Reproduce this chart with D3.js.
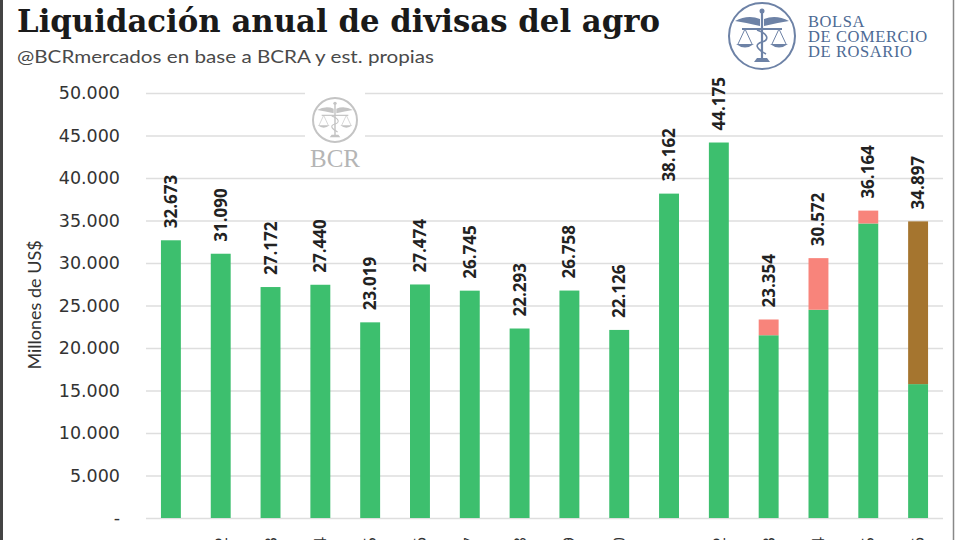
<!DOCTYPE html>
<html>
<head>
<meta charset="utf-8">
<script src="https://cdn.jsdelivr.net/npm/d3@7"></script>
<style>
  html, body { margin: 0; padding: 0; background: #fff; }
  svg { display: block; }
</style>
</head>
<body>
<svg id="chart" width="960" height="540"></svg>
<script>
// datos (millones de US$)
const years = ["2011", "2012", "2013", "2014", "2015", "2016", "2017", "2018",
               "2019", "2020", "2021", "2022", "2023", "2024", "2025", "2026"];
const base = [32673, 31090, 27172, 27440, 23019, 27474, 26745, 22293,
              26758, 22126, 38162, 44175, 21500, 24500, 34650, 15750];
const blend = [0, 0, 0, 0, 0, 0, 0, 0, 0, 0, 0, 0, 1854, 6072, 1514, 0];
const estimado = [0, 0, 0, 0, 0, 0, 0, 0, 0, 0, 0, 0, 0, 0, 0, 19147];
const yTicks = [0, 5000, 10000, 15000, 20000, 25000, 30000, 35000, 40000, 45000, 50000];

const colors = { base: "#3dbf6e", blend: "#f8847b", estimado: "#a5752f" };

const svg = d3.select("#chart");

const margin = { left: 146, right: 943, top: 93, bottom: 518 };

const x = d3.scaleBand()
    .domain(years)
    .range([margin.left, margin.right])
    .paddingInner(0.6)
    .paddingOuter(0.3);

const y = d3.scaleLinear()
    .domain([0, 50000])
    .range([margin.bottom, margin.top]);

// borde
svg.append("line")
    .attr("x1", 1.5).attr("x2", 1.5).attr("y1", 0).attr("y2", 540)
    .attr("stroke", "#444").attr("stroke-width", 3);
svg.append("line")
    .attr("x1", 953.5).attr("x2", 953.5).attr("y1", 0).attr("y2", 540)
    .attr("stroke", "#888").attr("stroke-width", 1.5);

// titulo
svg.append("text")
    .attr("x", 17).attr("y", 32)
    .attr("font-family", "DejaVu Serif")
    .attr("font-weight", "bold")
    .attr("font-size", 31)
    .attr("fill", "#1a1a1a")
    .attr("textLength", 643)
    .attr("lengthAdjust", "spacingAndGlyphs")
    .text("Liquidación anual de divisas del agro");

svg.append("text")
    .attr("x", 17).attr("y", 63)
    .attr("font-family", "Lato")
    .attr("font-size", 18)
    .attr("fill", "#4a4a4a")
    .attr("textLength", 417)
    .attr("lengthAdjust", "spacingAndGlyphs")
    .text("@BCRmercados en base a BCRA y est. propias");

// grilla y eje y
const yAxis = d3.axisLeft(y)
    .tickValues(yTicks)
    .tickSize(-(margin.right - margin.left))
    .tickPadding(26)
    .tickFormat(d => d === 0 ? "-" : d3.format(",")(d).replace(/,/g, "."));

const gy = svg.append("g")
    .attr("transform", `translate(${margin.left},0)`)
    .call(yAxis);
gy.select(".domain").remove();
gy.selectAll(".tick line").attr("stroke", "#dedede").attr("stroke-width", 1.5);
gy.selectAll(".tick text")
    .attr("font-family", "DejaVu Sans")
    .attr("font-size", 17.5)
    .attr("fill", "#333");

svg.append("text")
    .attr("transform", "translate(41,305) rotate(-90)")
    .attr("text-anchor", "middle")
    .attr("font-family", "Lato")
    .attr("font-size", 18)
    .attr("fill", "#333")
    .text("Millones de US$");

// emblema (caduceo y balanza)
function emblem(g, r, color, sw) {
    g.append("circle").attr("r", r).attr("fill", "none")
        .attr("stroke", color).attr("stroke-width", sw);
    const s = r / 33;
    g.append("line").attr("x1", 0).attr("x2", 0)
        .attr("y1", -24 * s).attr("y2", 24 * s)
        .attr("stroke", color).attr("stroke-width", 2.2 * s);
    g.append("circle").attr("cy", -25 * s).attr("r", 2.5 * s).attr("fill", color);
    const wing = d3.path();
    wing.moveTo(-2 * s, -17 * s);
    wing.quadraticCurveTo(-14 * s, -22 * s, -27 * s, -15 * s);
    wing.quadraticCurveTo(-14 * s, -13 * s, -2 * s, -10 * s);
    wing.closePath();
    g.append("path").attr("d", wing.toString()).attr("fill", color);
    g.append("path").attr("d", wing.toString()).attr("fill", color)
        .attr("transform", "scale(-1,1)");
    g.append("path")
        .attr("d", `M${-5 * s},${-6 * s} C${7 * s},${-2 * s} ${7 * s},${4 * s} 0,${6 * s} S${-7 * s},${12 * s} ${4 * s},${18 * s}`)
        .attr("fill", "none").attr("stroke", color).attr("stroke-width", 1.6 * s);
    g.append("line").attr("x1", -20 * s).attr("x2", 20 * s)
        .attr("y1", -7 * s).attr("y2", -7 * s)
        .attr("stroke", color).attr("stroke-width", 1.8 * s);
    [-17, 17].forEach(cx => {
        g.append("path")
            .attr("d", `M${cx * s},${-7 * s} L${(cx - 7) * s},${8 * s} M${cx * s},${-7 * s} L${(cx + 7) * s},${8 * s}`)
            .attr("stroke", color).attr("stroke-width", 1 * s).attr("fill", "none");
        g.append("path")
            .attr("d", `M${(cx - 9) * s},${8 * s} Q${cx * s},${15 * s} ${(cx + 9) * s},${8 * s} Z`)
            .attr("fill", color);
    });
    g.append("path")
        .attr("d", `M${-8 * s},${26 * s} L${8 * s},${26 * s} L${5 * s},${22 * s} L${-5 * s},${22 * s} Z`)
        .attr("fill", color);
}

// marca de agua
const wm = svg.append("g").attr("transform", "translate(335,120)");
wm.append("rect").attr("x", -30).attr("y", -28).attr("width", 60).attr("height", 60).attr("fill", "#fff");
emblem(wm, 22, "#c4c4c4", 2);
svg.append("text")
    .attr("x", 335).attr("y", 167)
    .attr("text-anchor", "middle")
    .attr("font-family", "Liberation Serif")
    .attr("font-size", 25)
    .attr("fill", "#b5b5b5")
    .text("BCR");

// logo institucional
const logo = svg.append("g").attr("transform", "translate(762,36)");
emblem(logo, 33, "#6d82a6", 2);
const logoText = ["BOLSA", "DE COMERCIO", "DE ROSARIO"];
svg.append("g").selectAll("text")
    .data(logoText)
    .join("text")
    .attr("x", 808)
    .attr("y", (d, i) => [27, 42, 57][i])
    .attr("font-family", "Liberation Serif")
    .attr("font-size", 16.5)
    .attr("letter-spacing", 0.6)
    .attr("fill", "#4d6a94")
    .text(d => d);

// barras apiladas
const rows = years.map((yr, i) => ({ year: yr, base: base[i], blend: blend[i], estimado: estimado[i] }));
const keys = ["base", "blend", "estimado"];
const stack = d3.stack().keys(keys)(rows);

svg.append("g").selectAll("g")
    .data(stack)
    .join("g")
    .attr("fill", d => colors[d.key])
    .selectAll("rect")
    .data(d => d.filter(p => p[1] > p[0]))
    .join("rect")
    .attr("x", d => x(d.data.year))
    .attr("width", x.bandwidth())
    .attr("y", d => y(d[1]))
    .attr("height", d => y(d[0]) - y(d[1]));

// etiquetas de total
const totals = rows.map(r => ({ year: r.year, total: r.base + r.blend + r.estimado }));
svg.append("g").selectAll("text")
    .data(totals)
    .join("text")
    .attr("transform", d => `translate(${x(d.year) + x.bandwidth() / 2 + 6},${y(d.total) - 12}) rotate(-90)`)
    .attr("font-family", "Open Sans")
    .attr("font-weight", "bold")
    .attr("font-size", 17)
    .attr("fill", "#222")
    .text(d => d3.format(",")(d.total).replace(/,/g, "."));

// etiquetas de año (cortadas en el borde inferior, como en el original)
svg.append("g").selectAll("text")
    .data(years)
    .join("text")
    .attr("transform", d => `translate(${x(d) + x.bandwidth() / 2 + 6},537) rotate(-90)`)
    .attr("text-anchor", "end")
    .attr("font-family", "Open Sans")
    .attr("font-size", 17)
    .attr("fill", "#333")
    .text(d => d);
</script>
</body>
</html>
